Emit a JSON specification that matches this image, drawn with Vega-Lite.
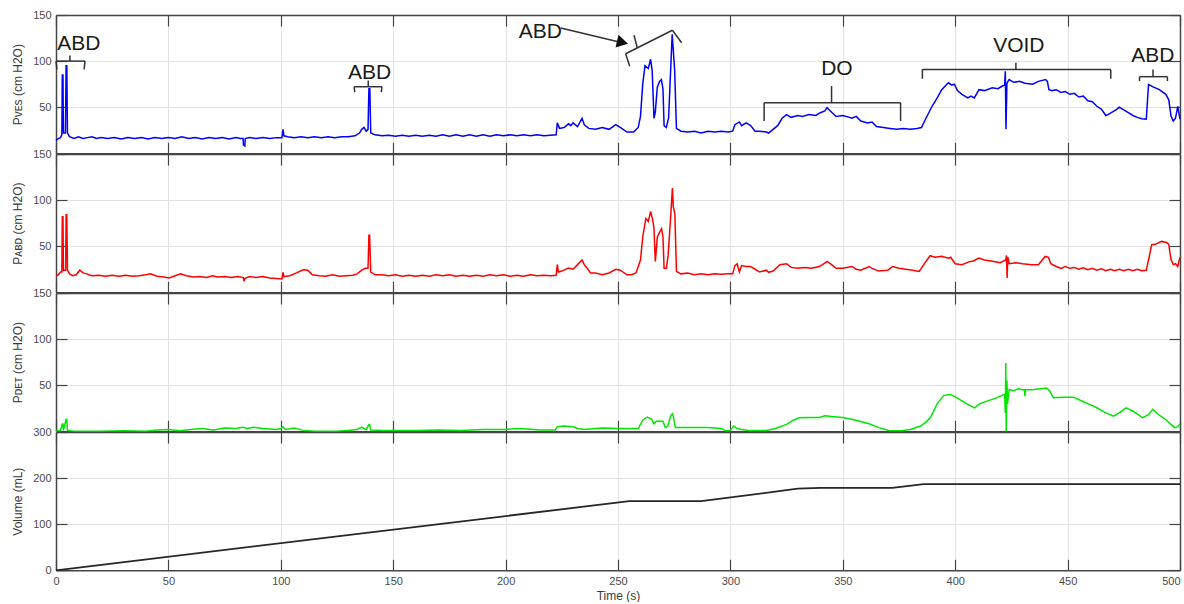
{
  "$schema": "https://vega.github.io/schema/vega-lite/v6.json",
  "padding": {"left": 11, "top": 9, "right": 0, "bottom": 0},
  "bounds": "flush",
  "spacing": 0,
  "config": {
    "view": {"stroke": null},
    "font": "Liberation Sans",
    "axis": {
      "labelFont": "Liberation Sans", "titleFont": "Liberation Sans",
      "labelFontSize": 11, "titleFontSize": 12, "titleFontWeight": "normal",
      "labelColor": "#4a4a4a", "titleColor": "#3a3a3a",
      "domainColor": "#454545", "domainWidth": 1.5,
      "tickColor": "#454545", "tickWidth": 1.2, "tickSize": -11,
      "gridColor": "#e2e2e2", "gridWidth": 1,
      "labelFlush": false, "labelOverlap": false, "labelPadding": 16
    }
  },
  "datasets": {
    "ves": [
      {"t":0,"v":14},{"t":1,"v":16},{"t":2,"v":17},{"t":2.6,"v":20},{"t":2.8,"v":85},{"t":3.1,"v":85},{"t":3.3,"v":22},{"t":4.2,"v":22},{"t":4.5,"v":95},{"t":4.8,"v":95},{"t":5.1,"v":22},{"t":6,"v":18},{"t":8,"v":16},{"t":10,"v":18},{"t":12,"v":16},{"t":14,"v":17},{"t":16,"v":18},{"t":18,"v":16},{"t":20,"v":17},{"t":23,"v":16},{"t":26,"v":17},{"t":29,"v":15.5},{"t":32,"v":17},{"t":35,"v":16},{"t":38,"v":17},{"t":41,"v":15.5},{"t":44,"v":17},{"t":47,"v":16},{"t":50,"v":17},{"t":53,"v":16},{"t":56,"v":18},{"t":59,"v":16},{"t":62,"v":17},{"t":65,"v":15.5},{"t":68,"v":17},{"t":71,"v":16},{"t":74,"v":17},{"t":77,"v":15.5},{"t":80,"v":17},{"t":82,"v":16},{"t":83.2,"v":16},{"t":83.4,"v":9},{"t":84,"v":8},{"t":84.2,"v":16},{"t":86,"v":17},{"t":89,"v":16},{"t":92,"v":17},{"t":95,"v":16},{"t":98,"v":17},{"t":100.5,"v":17},{"t":101,"v":26},{"t":101.4,"v":19},{"t":103,"v":18},{"t":106,"v":17},{"t":109,"v":18},{"t":112,"v":17},{"t":115,"v":18},{"t":118,"v":17},{"t":121,"v":18},{"t":124,"v":17},{"t":127,"v":18},{"t":130,"v":18},{"t":133,"v":19},{"t":135,"v":22},{"t":136,"v":26},{"t":137,"v":28},{"t":138,"v":24},{"t":138.8,"v":26},{"t":139.2,"v":70},{"t":139.6,"v":70},{"t":140,"v":22},{"t":142,"v":20},{"t":145,"v":19},{"t":148,"v":19.5},{"t":151,"v":18.5},{"t":154,"v":19.5},{"t":157,"v":18.5},{"t":160,"v":19.5},{"t":163,"v":18.5},{"t":166,"v":19.5},{"t":169,"v":18.5},{"t":172,"v":20},{"t":175,"v":18.5},{"t":178,"v":20},{"t":181,"v":18.5},{"t":184,"v":20},{"t":187,"v":18.5},{"t":190,"v":20},{"t":193,"v":18.5},{"t":196,"v":20},{"t":199,"v":19},{"t":202,"v":20},{"t":205,"v":19},{"t":208,"v":20},{"t":211,"v":19},{"t":214,"v":20},{"t":217,"v":19},{"t":220,"v":19.5},{"t":222.5,"v":20},{"t":223,"v":33},{"t":224,"v":27},{"t":226,"v":28},{"t":228,"v":32},{"t":229,"v":30},{"t":230,"v":33},{"t":232,"v":29},{"t":234,"v":38},{"t":235,"v":31},{"t":237,"v":27},{"t":240,"v":26},{"t":243,"v":28},{"t":246,"v":26},{"t":249,"v":31},{"t":251,"v":28},{"t":254,"v":23},{"t":257,"v":23},{"t":259,"v":28},{"t":260,"v":40},{"t":261,"v":75},{"t":262,"v":95},{"t":263.5,"v":92},{"t":264.5,"v":102},{"t":265.2,"v":90},{"t":266,"v":38},{"t":266.6,"v":45},{"t":267.5,"v":72},{"t":268.5,"v":78},{"t":269.3,"v":80},{"t":270,"v":70},{"t":270.5,"v":30},{"t":271.5,"v":28},{"t":272.5,"v":38},{"t":273.5,"v":95},{"t":274.1,"v":129},{"t":274.6,"v":112},{"t":275.2,"v":90},{"t":276,"v":27},{"t":278,"v":24},{"t":281,"v":23},{"t":284,"v":24},{"t":287,"v":22},{"t":290,"v":24},{"t":293,"v":23},{"t":296,"v":24},{"t":299,"v":23},{"t":301,"v":24},{"t":302,"v":31},{"t":304,"v":34},{"t":305,"v":30},{"t":307,"v":33},{"t":309,"v":30},{"t":311,"v":24},{"t":313,"v":24},{"t":316,"v":23},{"t":317,"v":22},{"t":319,"v":26},{"t":321,"v":30},{"t":323,"v":38},{"t":325,"v":42},{"t":327,"v":39},{"t":330,"v":41},{"t":332,"v":40},{"t":335,"v":42},{"t":338,"v":41},{"t":340,"v":44},{"t":342,"v":46},{"t":343,"v":49.5},{"t":344,"v":47},{"t":347,"v":40},{"t":350,"v":41},{"t":353,"v":39},{"t":354,"v":38},{"t":356,"v":40},{"t":358,"v":35},{"t":361,"v":33},{"t":363,"v":34},{"t":365,"v":29},{"t":368,"v":28},{"t":371,"v":27},{"t":374,"v":26},{"t":377,"v":27},{"t":380,"v":26},{"t":383,"v":27},{"t":385,"v":28},{"t":387,"v":38},{"t":389.7,"v":51},{"t":392,"v":60},{"t":394,"v":69},{"t":396,"v":74},{"t":397,"v":76.5},{"t":398.5,"v":74},{"t":399.6,"v":75},{"t":401,"v":68},{"t":403,"v":64},{"t":405.6,"v":60},{"t":407,"v":62},{"t":408.5,"v":60},{"t":410.6,"v":69},{"t":413,"v":68},{"t":416.5,"v":71},{"t":419,"v":70},{"t":421,"v":73},{"t":422,"v":74},{"t":422.3,"v":89},{"t":422.6,"v":26},{"t":423,"v":76},{"t":424,"v":80},{"t":426,"v":77},{"t":428.6,"v":78},{"t":431,"v":76},{"t":434.5,"v":75},{"t":437,"v":78},{"t":440.2,"v":80},{"t":441,"v":78},{"t":441.7,"v":69},{"t":443,"v":68},{"t":445,"v":69},{"t":447,"v":66},{"t":449,"v":67},{"t":451,"v":64},{"t":453,"v":65},{"t":455,"v":61},{"t":457,"v":62},{"t":459,"v":57},{"t":461,"v":56},{"t":463,"v":51},{"t":465,"v":48},{"t":467,"v":41},{"t":468,"v":42},{"t":470,"v":45},{"t":472,"v":48},{"t":473,"v":50},{"t":475,"v":47},{"t":477,"v":44},{"t":479,"v":41},{"t":481,"v":39},{"t":483,"v":37.5},{"t":485,"v":37},{"t":486,"v":74.7},{"t":488,"v":72},{"t":490.8,"v":69},{"t":493.7,"v":64},{"t":495,"v":58},{"t":496,"v":40.4},{"t":497,"v":35},{"t":498,"v":38},{"t":499,"v":51},{"t":500,"v":37}
    ],
    "abd": [
      {"t":0,"v":18},{"t":1,"v":19},{"t":2,"v":22},{"t":2.6,"v":22},{"t":2.8,"v":82},{"t":3.1,"v":82},{"t":3.3,"v":24},{"t":4.3,"v":24},{"t":4.5,"v":84},{"t":4.8,"v":84},{"t":5.1,"v":24},{"t":6,"v":20},{"t":7.5,"v":18},{"t":9,"v":19},{"t":10.6,"v":24},{"t":12,"v":21},{"t":13.6,"v":20},{"t":16,"v":18},{"t":19,"v":18.5},{"t":22,"v":17.5},{"t":25,"v":18.5},{"t":28,"v":17.5},{"t":31,"v":18.5},{"t":34,"v":17.5},{"t":37,"v":18},{"t":40,"v":19},{"t":42,"v":20},{"t":45,"v":17.5},{"t":48,"v":16.5},{"t":50.3,"v":15.5},{"t":53,"v":18},{"t":55.4,"v":20},{"t":58,"v":18},{"t":61,"v":16.5},{"t":64,"v":17},{"t":67,"v":16},{"t":69.6,"v":18},{"t":72,"v":16.5},{"t":75,"v":17},{"t":78,"v":16},{"t":81,"v":17},{"t":83.3,"v":16},{"t":83.6,"v":12},{"t":84,"v":15},{"t":86,"v":17},{"t":89,"v":16},{"t":92,"v":17},{"t":95,"v":15.5},{"t":98,"v":15},{"t":100.5,"v":14.5},{"t":101,"v":21.7},{"t":101.4,"v":17},{"t":104,"v":18},{"t":107,"v":21},{"t":110,"v":24.5},{"t":112,"v":24},{"t":114,"v":19},{"t":117,"v":18},{"t":120,"v":17.5},{"t":123,"v":19},{"t":126,"v":17.5},{"t":129,"v":18},{"t":132,"v":18.5},{"t":134,"v":20},{"t":136,"v":24},{"t":137.5,"v":26},{"t":138.8,"v":26},{"t":139.2,"v":62},{"t":139.5,"v":62},{"t":140,"v":22},{"t":142,"v":19},{"t":145,"v":19},{"t":148,"v":18},{"t":151,"v":19},{"t":154,"v":17.5},{"t":157,"v":18.5},{"t":160,"v":17.5},{"t":163,"v":18.5},{"t":166,"v":17.5},{"t":169,"v":19},{"t":172,"v":18},{"t":175,"v":19},{"t":178,"v":17.5},{"t":181,"v":18.5},{"t":184,"v":17.5},{"t":187,"v":18.5},{"t":190,"v":17.5},{"t":193,"v":19},{"t":196,"v":18},{"t":199,"v":19},{"t":202,"v":17.5},{"t":205,"v":18.5},{"t":208,"v":17.5},{"t":211,"v":19},{"t":214,"v":18},{"t":217,"v":18.5},{"t":220,"v":18},{"t":222.5,"v":18.5},{"t":223,"v":30},{"t":223.5,"v":22},{"t":225,"v":23},{"t":228,"v":26.4},{"t":230,"v":25},{"t":232,"v":30},{"t":234,"v":35},{"t":235,"v":30},{"t":236,"v":27},{"t":237.8,"v":21},{"t":240,"v":21},{"t":243,"v":19},{"t":246,"v":21},{"t":249,"v":25},{"t":251,"v":24},{"t":254,"v":19},{"t":256,"v":19},{"t":258,"v":21},{"t":260,"v":35},{"t":261,"v":60},{"t":262.4,"v":80},{"t":263.5,"v":77},{"t":264.5,"v":87.6},{"t":265.3,"v":80},{"t":266,"v":70},{"t":266.6,"v":33.5},{"t":267.5,"v":60},{"t":268.5,"v":65},{"t":269.4,"v":69},{"t":270,"v":60},{"t":270.5,"v":26},{"t":271.5,"v":26},{"t":272.3,"v":40},{"t":273.5,"v":85},{"t":274.2,"v":113},{"t":274.6,"v":93},{"t":275.3,"v":85},{"t":276,"v":22.7},{"t":278,"v":20},{"t":281,"v":21},{"t":284,"v":19},{"t":287,"v":20},{"t":290,"v":19},{"t":293,"v":20},{"t":296,"v":19.5},{"t":299,"v":20},{"t":301,"v":20},{"t":302,"v":29},{"t":303,"v":31},{"t":304,"v":22},{"t":305,"v":29},{"t":307,"v":28},{"t":309,"v":28},{"t":311,"v":25},{"t":313,"v":22},{"t":316,"v":24},{"t":317,"v":21.7},{"t":319,"v":23},{"t":322,"v":30},{"t":325,"v":31},{"t":327,"v":27},{"t":330,"v":26},{"t":333,"v":27},{"t":336,"v":26},{"t":339.6,"v":28},{"t":341,"v":30},{"t":343,"v":33.5},{"t":345,"v":30},{"t":347,"v":26},{"t":350,"v":26},{"t":354,"v":28},{"t":356,"v":25},{"t":358,"v":24},{"t":361.7,"v":28},{"t":363,"v":26},{"t":366,"v":23},{"t":370,"v":24},{"t":372.2,"v":28},{"t":375,"v":26},{"t":378,"v":25},{"t":381,"v":24},{"t":384,"v":22.7},{"t":386,"v":30},{"t":388.8,"v":39.7},{"t":391,"v":38},{"t":394,"v":39},{"t":397,"v":37},{"t":398,"v":38},{"t":400,"v":31},{"t":403,"v":30},{"t":406,"v":33},{"t":408,"v":34},{"t":410.6,"v":37.2},{"t":413,"v":35},{"t":416,"v":34},{"t":420,"v":32},{"t":422.5,"v":35},{"t":422.8,"v":40},{"t":423.1,"v":15.5},{"t":423.4,"v":38},{"t":424,"v":31},{"t":427,"v":32},{"t":430,"v":31},{"t":434,"v":30},{"t":437,"v":30},{"t":440,"v":38.9},{"t":441.5,"v":38},{"t":442.5,"v":31},{"t":445,"v":28},{"t":447,"v":26},{"t":449,"v":28},{"t":451,"v":26},{"t":453,"v":27},{"t":455,"v":25},{"t":457,"v":26.5},{"t":459,"v":24.5},{"t":461,"v":26},{"t":463,"v":24},{"t":465,"v":25.5},{"t":467,"v":23.5},{"t":469,"v":25},{"t":471,"v":23.5},{"t":473,"v":25},{"t":475,"v":23.5},{"t":477,"v":25},{"t":479,"v":23.5},{"t":481,"v":25},{"t":483,"v":23.5},{"t":485,"v":23.8},{"t":486,"v":35},{"t":487.4,"v":51.6},{"t":489,"v":52},{"t":491.8,"v":55.2},{"t":494,"v":54},{"t":495,"v":52},{"t":496,"v":35.4},{"t":497,"v":30},{"t":498,"v":31},{"t":499,"v":28},{"t":500,"v":38}
    ],
    "det": [
      {"t":0,"v":0},{"t":2,"v":1},{"t":2.8,"v":8},{"t":3.1,"v":8},{"t":3.3,"v":1},{"t":4.5,"v":13},{"t":4.8,"v":13},{"t":5.1,"v":1},{"t":8,"v":0},{"t":20,"v":0},{"t":30,"v":0.5},{"t":40,"v":0},{"t":45,"v":1.5},{"t":50,"v":2},{"t":55,"v":0.5},{"t":60,"v":2},{"t":65,"v":3},{"t":70,"v":1.5},{"t":75,"v":3.5},{"t":80,"v":3},{"t":83,"v":4.5},{"t":85,"v":3},{"t":88,"v":4.5},{"t":92,"v":3},{"t":98,"v":2},{"t":100,"v":3},{"t":101,"v":5},{"t":102,"v":2},{"t":106,"v":3.5},{"t":110,"v":1},{"t":115,"v":0},{"t":125,"v":0},{"t":130,"v":1},{"t":134,"v":2},{"t":136,"v":4.6},{"t":137,"v":3},{"t":138,"v":2},{"t":139.2,"v":7.5},{"t":139.5,"v":7.5},{"t":140,"v":1.5},{"t":145,"v":1},{"t":150,"v":1},{"t":160,"v":1},{"t":170,"v":1.5},{"t":180,"v":1},{"t":190,"v":2},{"t":200,"v":2},{"t":205,"v":3},{"t":210,"v":2.5},{"t":215,"v":1.5},{"t":222,"v":1.5},{"t":223,"v":5},{"t":226,"v":5.7},{"t":230,"v":5},{"t":232,"v":3},{"t":235,"v":2},{"t":240,"v":3},{"t":243,"v":3.5},{"t":250,"v":3},{"t":255,"v":3},{"t":259,"v":3},{"t":261,"v":12},{"t":263,"v":15.5},{"t":265,"v":13},{"t":266,"v":8},{"t":267,"v":11},{"t":270,"v":11},{"t":271,"v":4},{"t":272,"v":5},{"t":273.5,"v":17},{"t":274.2,"v":19},{"t":274.7,"v":15},{"t":275.5,"v":4},{"t":280,"v":4},{"t":290,"v":4},{"t":296,"v":3},{"t":298,"v":0.5},{"t":300,"v":1},{"t":301.5,"v":5.7},{"t":303,"v":3},{"t":305,"v":2},{"t":308,"v":1},{"t":312,"v":1},{"t":316,"v":1},{"t":320,"v":3},{"t":325,"v":7.5},{"t":328,"v":12},{"t":330.5,"v":14.7},{"t":335,"v":15},{"t":339.6,"v":15},{"t":342,"v":16.9},{"t":345,"v":16},{"t":350,"v":15},{"t":355,"v":12.5},{"t":361.7,"v":8.2},{"t":366,"v":4},{"t":370.5,"v":0.9},{"t":376,"v":0.5},{"t":380,"v":2},{"t":384.6,"v":5.7},{"t":387,"v":10},{"t":389,"v":15},{"t":392,"v":30},{"t":395,"v":39},{"t":398,"v":40},{"t":401,"v":36},{"t":405,"v":30},{"t":408.5,"v":25.5},{"t":411,"v":30},{"t":414.5,"v":33},{"t":418,"v":36},{"t":422,"v":40},{"t":422.3,"v":20},{"t":422.5,"v":74},{"t":422.7,"v":0},{"t":423,"v":55},{"t":423.3,"v":30},{"t":424,"v":45.4},{"t":426,"v":44},{"t":428,"v":46},{"t":430,"v":45},{"t":430.8,"v":45},{"t":431,"v":38},{"t":431.2,"v":45},{"t":434,"v":45},{"t":437,"v":46},{"t":440.6,"v":47},{"t":442,"v":44},{"t":443.6,"v":36.3},{"t":448,"v":37},{"t":452.6,"v":37},{"t":457,"v":32},{"t":460,"v":29},{"t":463,"v":25.5},{"t":467,"v":20},{"t":470.4,"v":16.5},{"t":473,"v":20},{"t":476,"v":25.5},{"t":479,"v":22},{"t":483.4,"v":14.7},{"t":486,"v":18},{"t":487.9,"v":23.8},{"t":490,"v":19},{"t":494,"v":12},{"t":497.6,"v":4},{"t":499,"v":5},{"t":500,"v":8}
    ],
    "vol": [
      {"t":0,"v":0},{"t":255,"v":150},{"t":287,"v":150},{"t":330,"v":177},{"t":340,"v":179},{"t":372,"v":179},{"t":386,"v":187},{"t":500,"v":187}
    ],
    "segs": [
      {"t":0,"v":100,"t2":12.9,"v2":100},{"t":0,"v":100,"t2":0.4,"v2":91},{"t":12.9,"v":100,"t2":12.5,"v2":91},{"t":6.2,"v":100,"t2":6.2,"v2":106},
      {"t":132.6,"v":72.2,"t2":145,"v2":72.2},{"t":132.6,"v":72.2,"t2":132.9,"v2":66.4},{"t":145,"v":72.2,"t2":144.7,"v2":66.4},{"t":138.9,"v":72.2,"t2":138.9,"v2":79},
      {"t":315,"v":54.9,"t2":375.7,"v2":54.9},{"t":315,"v":54.9,"t2":315,"v2":35},{"t":375.7,"v":54.9,"t2":375.7,"v2":35},{"t":345,"v":54.9,"t2":345,"v2":72.9},
      {"t":385.4,"v":91,"t2":469.2,"v2":91},{"t":385.4,"v":91,"t2":385.4,"v2":80.9},{"t":469.2,"v":91,"t2":469.2,"v2":80.9},{"t":427,"v":91,"t2":427,"v2":98.2},
      {"t":482,"v":83.1,"t2":494.4,"v2":83.1},{"t":482,"v":83.1,"t2":482,"v2":78.3},{"t":494.4,"v":83.1,"t2":494.4,"v2":78.3},{"t":488,"v":83.1,"t2":488,"v2":91},
      {"t":253.4,"v":108,"t2":274.2,"v2":133.5},{"t":253.4,"v":108,"t2":255.2,"v2":94.5},{"t":274.2,"v":133.5,"t2":278.3,"v2":119.9},{"t":258.6,"v":114.5,"t2":257.1,"v2":128.1},
      {"t":224.5,"v":136,"t2":251.5,"v2":120.2}
    ],
    "labels": [
      {"t":10.2,"v":118.6,"label":"ABD"},
      {"t":139.5,"v":87.2,"label":"ABD"},
      {"t":215.5,"v":131.6,"label":"ABD"},
      {"t":347.4,"v":91,"label":"DO"},
      {"t":428.3,"v":116.2,"label":"VOID"},
      {"t":487.9,"v":105.4,"label":"ABD"}
    ],
    "head": [{"t":252,"v":120.2}],
    "frame": [{"t":0,"v":0}]
  },
  "vconcat": [
    {
      "width": 1124, "height": 138.3,
      "resolve": {"axis": {"x": "independent", "y": "independent"}},
      "layer": [
        {
          "data": {"name": "ves"},
          "mark": {"type": "line", "color": "#0000ff", "strokeWidth": 1.5, "interpolate": "linear"},
          "encoding": {
            "x": {"field": "t", "type": "quantitative", "scale": {"domain": [0, 500], "nice": false, "zero": false},
                  "axis": {"orient": "bottom", "labels": false, "title": null, "grid": true, "values": [0,50,100,150,200,250,300,350,400,450,500]}},
            "y": {"field": "v", "type": "quantitative", "scale": {"domain": [0, 150], "nice": false},
                  "axis": {"orient": "left", "values": [50,100,150], "grid": true, "title": "Pᴠᴇs (cm H2O)", "titlePadding": 8}}
          }
        },
        {
          "data": {"name": "frame"},
          "mark": {"type": "point", "opacity": 0},
          "encoding": {
            "x": {"field": "t", "type": "quantitative", "axis": {"orient": "top", "labels": false, "title": null, "grid": false, "values": [0,50,100,150,200,250,300,350,400,450,500]}},
            "y": {"field": "v", "type": "quantitative", "axis": {"orient": "right", "labels": false, "title": null, "grid": false, "values": [50,100,150]}}
          }
        },
        {
          "data": {"name": "segs"},
          "mark": {"type": "rule", "color": "#333333", "strokeWidth": 1.5},
          "encoding": {
            "x": {"field": "t", "type": "quantitative", "axis": null},
            "x2": {"field": "t2"},
            "y": {"field": "v", "type": "quantitative", "axis": null},
            "y2": {"field": "v2"}
          }
        },
        {
          "data": {"name": "head"},
          "mark": {"type": "point", "shape": "triangle-right", "filled": true, "size": 170, "angle": 13, "color": "#111111", "opacity": 1},
          "encoding": {
            "x": {"field": "t", "type": "quantitative", "axis": null},
            "y": {"field": "v", "type": "quantitative", "axis": null}
          }
        },
        {
          "data": {"name": "labels"},
          "mark": {"type": "text", "font": "Liberation Sans", "fontSize": 21, "color": "#1a1a1a", "align": "center", "baseline": "middle"},
          "encoding": {
            "x": {"field": "t", "type": "quantitative", "axis": null},
            "y": {"field": "v", "type": "quantitative", "axis": null},
            "text": {"field": "label"}
          }
        }
      ]
    },
    {
      "width": 1124, "height": 138.3,
      "resolve": {"axis": {"x": "independent", "y": "independent"}},
      "layer": [
        {
          "data": {"name": "abd"},
          "mark": {"type": "line", "color": "#ff0000", "strokeWidth": 1.5},
          "encoding": {
            "x": {"field": "t", "type": "quantitative", "scale": {"domain": [0, 500], "nice": false, "zero": false},
                  "axis": {"orient": "bottom", "labels": false, "title": null, "grid": true, "values": [0,50,100,150,200,250,300,350,400,450,500]}},
            "y": {"field": "v", "type": "quantitative", "scale": {"domain": [0, 150], "nice": false},
                  "axis": {"orient": "left", "values": [50,100,150], "grid": true, "title": "Pᴀʙᴅ (cm H2O)", "titlePadding": 8}}
          }
        },
        {
          "data": {"name": "frame"},
          "mark": {"type": "point", "opacity": 0},
          "encoding": {
            "x": {"field": "t", "type": "quantitative", "axis": {"orient": "top", "labels": false, "title": null, "grid": false, "values": [0,50,100,150,200,250,300,350,400,450,500]}},
            "y": {"field": "v", "type": "quantitative", "axis": {"orient": "right", "labels": false, "title": null, "grid": false, "values": [50,100,150]}}
          }
        }
      ]
    },
    {
      "width": 1124, "height": 138.3,
      "resolve": {"axis": {"x": "independent", "y": "independent"}},
      "layer": [
        {
          "data": {"name": "det"},
          "mark": {"type": "line", "color": "#00e600", "strokeWidth": 1.5},
          "encoding": {
            "x": {"field": "t", "type": "quantitative", "scale": {"domain": [0, 500], "nice": false, "zero": false},
                  "axis": {"orient": "bottom", "labels": false, "title": null, "grid": true, "values": [0,50,100,150,200,250,300,350,400,450,500]}},
            "y": {"field": "v", "type": "quantitative", "scale": {"domain": [0, 150], "nice": false},
                  "axis": {"orient": "left", "values": [50,100,150], "grid": true, "title": "Pᴅᴇᴛ (cm H2O)", "titlePadding": 8}}
          }
        },
        {
          "data": {"name": "frame"},
          "mark": {"type": "point", "opacity": 0},
          "encoding": {
            "x": {"field": "t", "type": "quantitative", "axis": {"orient": "top", "labels": false, "title": null, "grid": false, "values": [0,50,100,150,200,250,300,350,400,450,500]}},
            "y": {"field": "v", "type": "quantitative", "axis": {"orient": "right", "labels": false, "title": null, "grid": false, "values": [50,100,150]}}
          }
        }
      ]
    },
    {
      "width": 1124, "height": 138.3,
      "resolve": {"axis": {"x": "independent", "y": "independent"}},
      "layer": [
        {
          "data": {"name": "vol"},
          "mark": {"type": "line", "color": "#262626", "strokeWidth": 1.8},
          "encoding": {
            "x": {"field": "t", "type": "quantitative", "scale": {"domain": [0, 500], "nice": false, "zero": false},
                  "axis": {"orient": "bottom", "labels": true, "title": "Time (s)", "titlePadding": 4, "grid": true,
                           "labelAlign": {"condition": {"test": "datum.value == 500", "value": "right"}, "value": "center"},
                           "values": [0,50,100,150,200,250,300,350,400,450,500]}},
            "y": {"field": "v", "type": "quantitative", "scale": {"domain": [0, 300], "nice": false},
                  "axis": {"orient": "left", "values": [0,100,200,300], "grid": true, "title": "Volume (mL)", "titlePadding": 8}}
          }
        },
        {
          "data": {"name": "frame"},
          "mark": {"type": "point", "opacity": 0},
          "encoding": {
            "x": {"field": "t", "type": "quantitative", "axis": {"orient": "top", "labels": false, "title": null, "grid": false, "values": [0,50,100,150,200,250,300,350,400,450,500]}},
            "y": {"field": "v", "type": "quantitative", "axis": {"orient": "right", "labels": false, "title": null, "grid": false, "values": [0,100,200,300]}}
          }
        }
      ]
    }
  ]
}
